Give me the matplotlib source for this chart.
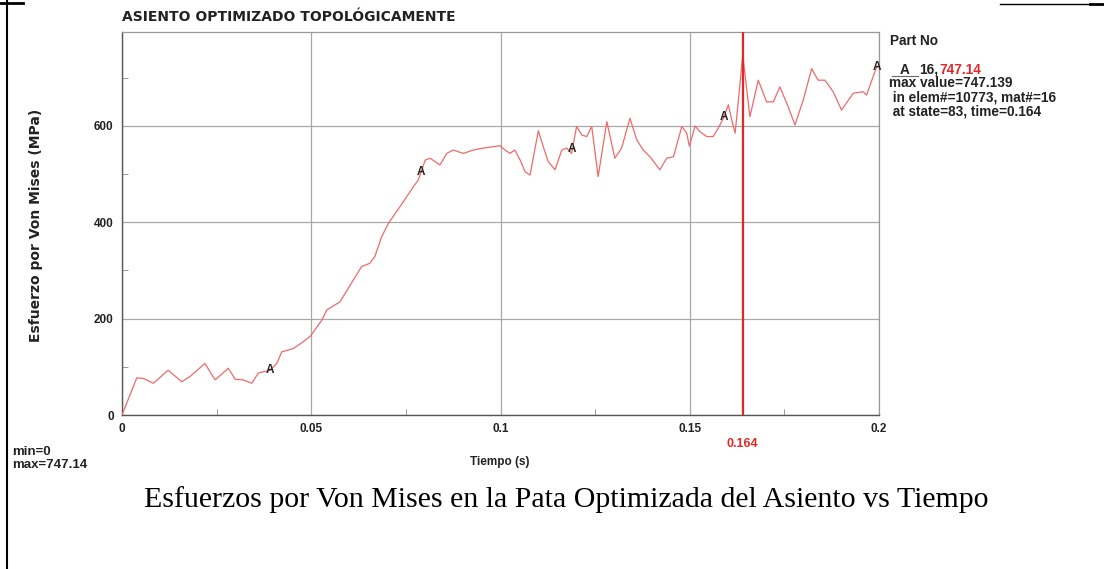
import numpy as np
import matplotlib
matplotlib.use("Agg")
import matplotlib.pyplot as plt
from matplotlib.lines import Line2D

plt.rcParams['font.family'] = ['Liberation Sans', 'DejaVu Sans']

# Von Mises stress history (time in s, stress in MPa)
tiempo = [0.0, 0.0039, 0.0056, 0.0083, 0.0122, 0.0158, 0.018, 0.0219, 0.0246, 0.0281,
          0.0299, 0.032, 0.0343, 0.036, 0.0391, 0.0409, 0.0422, 0.0453, 0.0475, 0.0497,
          0.0528, 0.0541, 0.0576, 0.0611, 0.0633, 0.0655, 0.0668, 0.0686, 0.0704, 0.0734,
          0.077, 0.0783, 0.0801, 0.0814, 0.0827, 0.084, 0.0858, 0.0875, 0.0902, 0.0928,
          0.0955, 0.0981, 0.0999, 0.1012, 0.1025, 0.1038, 0.1052, 0.1065, 0.1078, 0.11,
          0.1113, 0.1126, 0.1144, 0.1162, 0.1175, 0.1188, 0.1201, 0.1215, 0.1228, 0.1241,
          0.1258, 0.1281, 0.1302, 0.132, 0.1342, 0.136, 0.1377, 0.1395, 0.1421, 0.1439,
          0.1457, 0.1479, 0.1492, 0.1499, 0.1514, 0.1527, 0.1545, 0.1562, 0.1575, 0.1589,
          0.1602, 0.1611, 0.162, 0.164, 0.1659, 0.1681, 0.1703, 0.1721, 0.1738, 0.176,
          0.1778, 0.18, 0.1822, 0.1839, 0.1857, 0.1879, 0.1901, 0.1932, 0.1958, 0.1967,
          0.1994, 0.2]
esfuerzo = [0, 77, 76, 66, 93, 69, 80, 107, 73, 97,
            74, 73, 66, 87, 93, 107, 131, 138, 150, 163,
            197, 218, 235, 280, 308, 315, 329, 370, 398, 432,
            474, 488, 529, 533, 526, 519, 543, 550, 543, 550,
            554, 557, 559, 550, 543, 550, 529, 505, 498, 590,
            557, 526, 509, 550, 554, 543, 599, 581, 578, 599,
            495, 609, 533, 554, 616, 571, 550, 536, 509, 533,
            536, 599, 585, 558, 600, 588, 578, 578, 595, 616,
            644, 612, 585, 747.14, 619, 695, 650, 650, 681, 640,
            602, 654, 719, 695, 695, 671, 633, 668, 671, 664,
            723, 723]

marker_times = [0.039, 0.079, 0.119, 0.159, 0.1995]
t_cursor = 0.164
v_max = 747.14

x_ticks = [0, 0.05, 0.1, 0.15, 0.2]
x_tick_labels = ['0', '0.05', '0.1', '0.15', '0.2']
y_ticks = [0, 200, 400, 600]

W, H = 1104, 569
fig = plt.figure(figsize=(W / 100, H / 100), dpi=100)
fig.patch.set_facecolor('white')

ax = fig.add_axes([122 / W, 1 - 415 / H, (879 - 122) / W, (415 - 32) / H])
ax.plot(tiempo, esfuerzo, color='#f06a6a', lw=0.9, zorder=3)
ax.axvline(t_cursor, color='#e02828', lw=1.6, zorder=4)

# "A" curve markers
for tm in marker_times:
    ym = np.interp(tm, tiempo, esfuerzo)
    ax.text(tm, ym, 'A', ha='center', va='center', fontsize=8.5, fontweight='bold',
            color='#222222', zorder=5)

ax.set_xlim(0, 0.2)
ax.set_ylim(0, 795)
ax.set_xticks(x_ticks)
ax.set_xticklabels(x_tick_labels)
ax.set_yticks(y_ticks)
ax.set_xticks([0.025, 0.075, 0.125, 0.175], minor=True)
ax.set_yticks([100, 300, 500, 700], minor=True)
ax.grid(True, which='major', color='#a8a8a8', lw=0.9)
ax.tick_params(which='major', length=0, labelsize=8.5, pad=6, colors='#222222')
ax.tick_params(which='minor', direction='in', length=4, color='#888888')
for lbl in ax.get_xticklabels() + ax.get_yticklabels():
    lbl.set_fontweight('bold')
for side in ['left', 'bottom']:
    ax.spines[side].set_color('#555555')
    ax.spines[side].set_linewidth(1.0)
for side in ['top', 'right']:
    ax.spines[side].set_color('#999999')
    ax.spines[side].set_linewidth(0.9)

ax.text(t_cursor, -0.075, '0.164', transform=ax.get_xaxis_transform(), ha='center',
        va='center', color='#e02828', fontsize=9, fontweight='bold')

# Titles and labels
fig.text(122 / W, 1 - 17 / H, 'ASIENTO OPTIMIZADO TOPOLÓGICAMENTE', ha='left', va='center',
         fontsize=10, fontweight='bold', family='DejaVu Sans', color='#222222')
fig.text(36 / W, 1 - 225 / H, 'Esfuerzo por Von Mises (MPa)', rotation=90, ha='center',
         va='center', fontsize=10, fontweight='bold', family='DejaVu Sans', color='#222222')
fig.text(500 / W, 1 - 462 / H, 'Tiempo (s)', ha='center', va='center', fontsize=8.5,
         fontweight='bold', color='#222222')
fig.text(12 / W, 1 - 452 / H, 'min=0', ha='left', va='center', fontsize=9.5,
         fontweight='bold', color='#222222')
fig.text(12 / W, 1 - 465 / H, 'max=747.14', ha='left', va='center', fontsize=9.5,
         fontweight='bold', color='#222222')

# Legend block on the right
leg_fs = 9.8
fig.text(890 / W, 1 - 41 / H, 'Part No', ha='left', va='center', fontsize=leg_fs,
         fontweight='bold', color='#222222')
fig.add_artist(Line2D([892 / W, 918 / W], [1 - 76 / H, 1 - 76 / H], color='#666666', lw=0.8))
fig.text(905 / W, 1 - 70 / H, 'A', ha='center', va='center', fontsize=leg_fs,
         fontweight='bold', color='#222222')
fig.text(919 / W, 1 - 70 / H, '16,', ha='left', va='center', fontsize=leg_fs,
         fontweight='bold', color='#222222')
fig.text(939 / W, 1 - 70 / H, f'{v_max:.2f}', ha='left', va='center', fontsize=leg_fs,
         fontweight='bold', color='#e02828')
fig.text(889 / W, 1 - 83 / H, 'max value=747.139', ha='left', va='center', fontsize=leg_fs,
         fontweight='bold', color='#222222')
fig.text(889 / W, 1 - 97 / H, ' in elem#=10773, mat#=16', ha='left', va='center',
         fontsize=leg_fs, fontweight='bold', color='#222222')
fig.text(889 / W, 1 - 111 / H, ' at state=83, time=0.164', ha='left', va='center',
         fontsize=leg_fs, fontweight='bold', color='#222222')

# Caption
fig.text(566 / W, 1 - 500 / H, 'Esfuerzos por Von Mises en la Pata Optimizada del Asiento vs Tiempo',
         ha='center', va='center', fontsize=21.5, family='Liberation Serif', color='black')

# Page frame
fig.add_artist(Line2D([7 / W, 7 / W], [0, 1], color='black', lw=1.5))
fig.add_artist(Line2D([0, 23 / W], [1 - 3 / H, 1 - 3 / H], color='black', lw=2.0))
fig.add_artist(Line2D([1000 / W, 1090 / W], [1 - 4 / H, 1 - 4 / H], color='black', lw=1.0))
fig.add_artist(Line2D([1090 / W, 1.0], [1 - 4 / H, 1 - 4 / H], color='black', lw=2.0))

fig.savefig('out.png', dpi=100, facecolor='white')
